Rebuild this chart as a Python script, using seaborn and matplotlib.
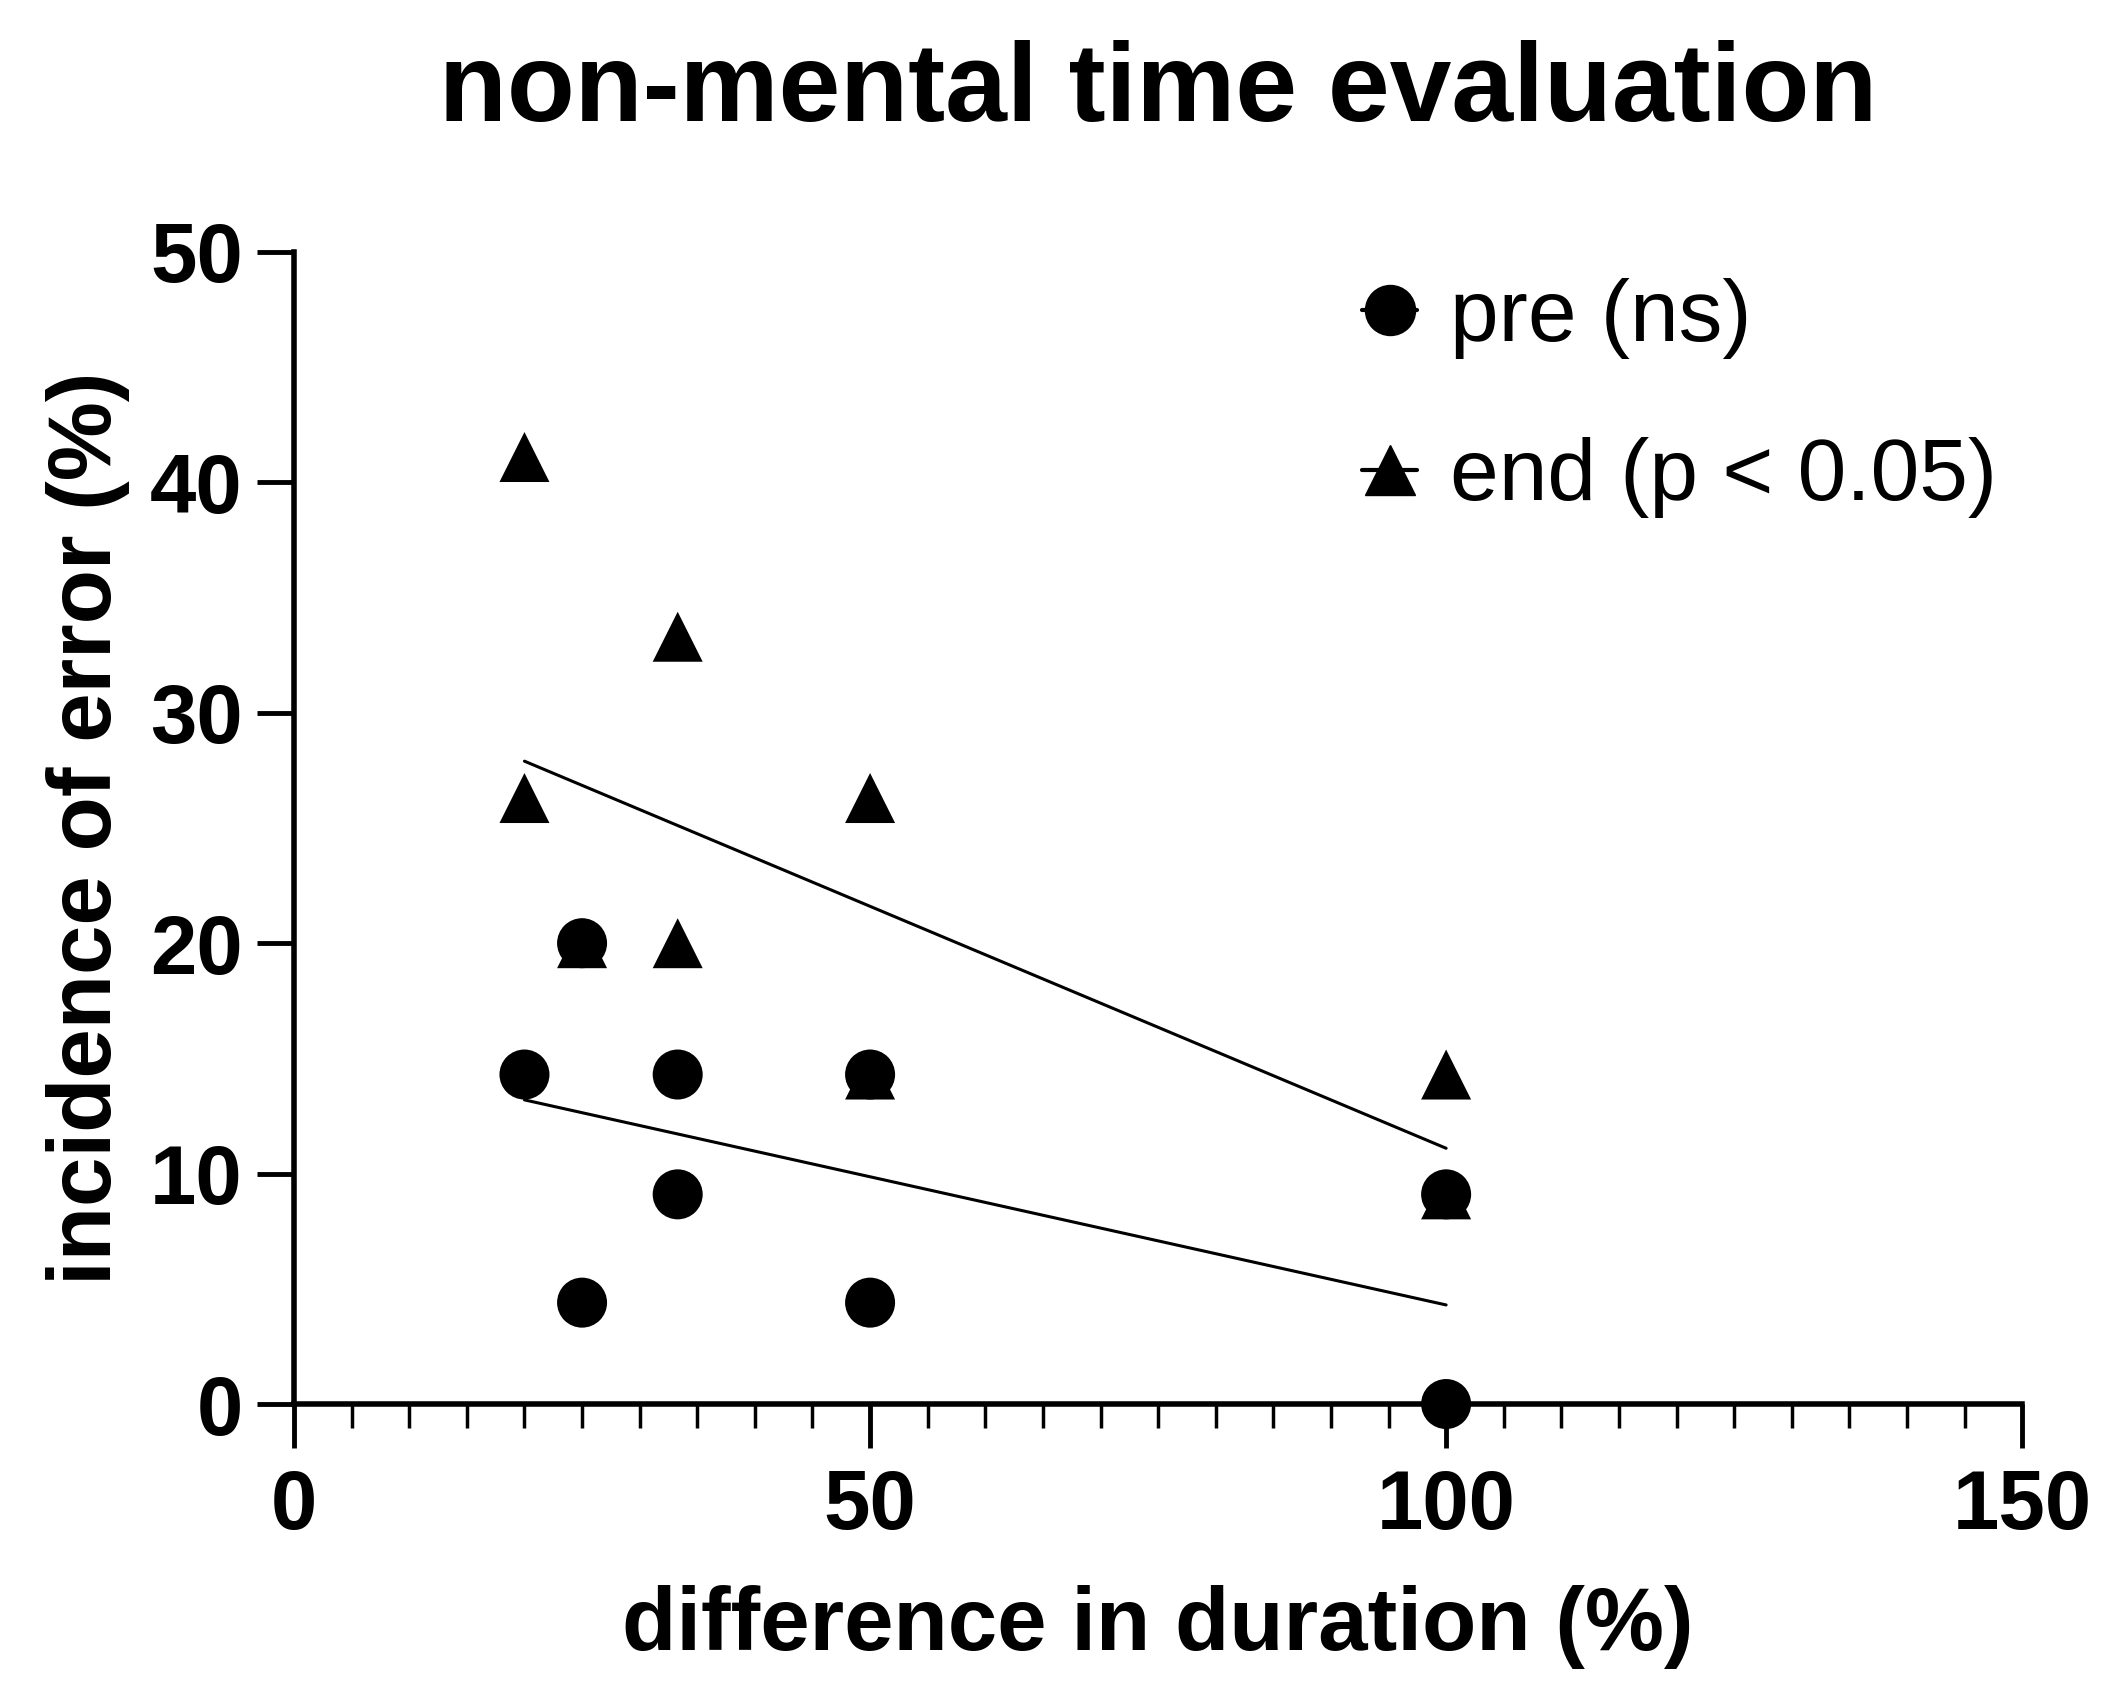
import matplotlib
matplotlib.use("Agg")
import matplotlib.pyplot as plt
from matplotlib.lines import Line2D
from matplotlib.ticker import MultipleLocator
import numpy as np
import pandas as pd
import seaborn as sns

# values
pre_x = [20, 25, 25, 33.3, 33.3, 50, 50, 100, 100]
pre_y = [14.3, 20.0, 4.4, 14.3, 9.1, 14.3, 4.4, 9.1, 0.0]
end_x = [20, 20, 25, 33.3, 33.3, 50, 50, 100, 100]
end_y = [41.1, 26.3, 20.0, 33.3, 20.0, 26.3, 14.3, 14.3, 9.1]

# fitted regression lines (as drawn in the reference)
fit_x = [20, 100]
pre_fit = [13.2, 4.3]
end_fit = [27.9, 11.1]

labels = ["pre (ns)", "end (p < 0.05)"]


def main() -> None:
    sns.set_theme(style="ticks")
    plt.rcParams["font.family"] = ["Liberation Sans", "DejaVu Sans"]
    plt.rcParams["text.color"] = "black"

    fig = plt.figure(figsize=(21.17, 17), dpi=100)
    ax = fig.add_axes([0.1389, 0.1741, 0.9552 - 0.1389, 0.8518 - 0.1741])

    pts = pd.DataFrame({
        "x": end_x + pre_x,
        "y": end_y + pre_y,
        "group": ["end"] * len(end_x) + ["pre"] * len(pre_x),
    })
    sns.scatterplot(data=pts, x="x", y="y", style="group",
                    markers={"end": "^", "pre": "o"}, color="black",
                    s=36 ** 2, linewidth=0, ax=ax, legend=False, clip_on=False, zorder=3)

    lines = pd.DataFrame({"x": fit_x * 2, "y": end_fit + pre_fit,
                          "group": ["end", "end", "pre", "pre"]})
    sns.lineplot(data=lines, x="x", y="y", units="group", estimator=None,
                 color="black", linewidth=2.2, ax=ax, legend=False, zorder=2)

    ax.set_xlim(0, 150)
    ax.set_ylim(0, 50)
    ax.xaxis.set_major_locator(MultipleLocator(50))
    ax.xaxis.set_minor_locator(MultipleLocator(5))
    ax.yaxis.set_major_locator(MultipleLocator(10))
    sns.despine(ax=ax)
    for sp in ["left", "bottom"]:
        ax.spines[sp].set_linewidth(4)
        ax.spines[sp].set_color("black")

    ax.tick_params(axis="x", which="major", length=32, width=3.5, pad=14,
                   labelsize=60, colors="black")
    ax.tick_params(axis="x", which="minor", length=17, width=2.5, colors="black")
    ax.tick_params(axis="y", which="major", length=27, width=3.5, pad=10,
                   labelsize=60, colors="black")
    for t in ax.get_xticklabels() + ax.get_yticklabels():
        t.set_fontweight("bold")

    ax.set_xlabel("difference in duration (%)", fontsize=64, fontweight="bold",
                  labelpad=28, color="black")
    ax.set_ylabel("incidence of error (%)", fontsize=64, fontweight="bold",
                  labelpad=14, color="black")
    ax.set_title("non-mental time evaluation", fontsize=80, fontweight="bold",
                 pad=94, color="black")

    handles = [
        Line2D([0], [0], color="black", marker="o", markersize=36, linewidth=3),
        Line2D([0], [0], color="black", marker="^", markersize=36, linewidth=3),
    ]
    leg = ax.legend(handles, labels, loc="upper left", bbox_to_anchor=(0.598, 1.008),
                    frameon=False, fontsize=63, handlelength=0.62, handletextpad=0.38,
                    labelspacing=0.9, borderaxespad=0)
    for t in leg.get_texts():
        t.set_color("black")

    fig.savefig("out.png", dpi=100, facecolor="white")
    plt.close(fig)


if __name__ == "__main__":
    main()
